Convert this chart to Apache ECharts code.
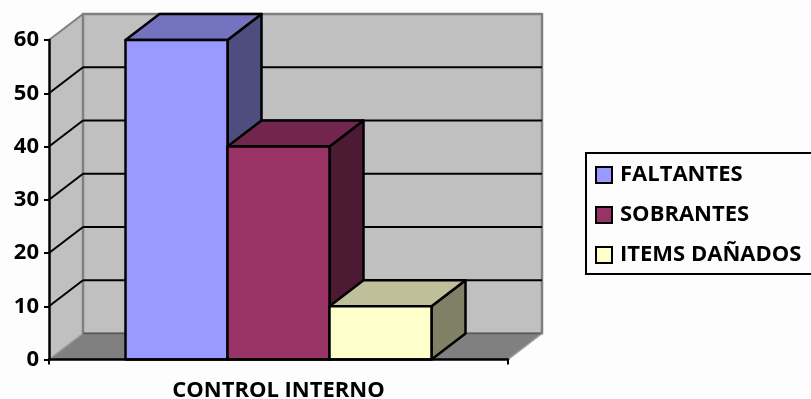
<!DOCTYPE html>
<html>
<head>
<meta charset="utf-8">
<style>html,body{margin:0;padding:0;background:#fdfdfd;overflow:hidden}#chart{width:811px;height:399px}</style>
<script src="https://cdn.jsdelivr.net/npm/echarts@6/dist/echarts.min.js"></script>
</head>
<body>
<div id="chart"></div>
<script>
// Inventory control results, drawn as a 3D-look clustered column
const categories = ['CONTROL INTERNO'];
const faltantes = [60];
const sobrantes = [40];
const itemsDanados = [10];
const yTicks = [0, 10, 20, 30, 40, 50, 60];

const FONT = '"Open Sans"';
const DEPTH_X = 34, DEPTH_Y = -26;
const BAND_UNITS = 4.5;   // one cluster band = 3 columns + 1.5 column widths of gap

const poly = (points, fill, stroke, lineWidth) => ({
  type: 'polygon',
  shape: { points },
  style: { fill, stroke, lineWidth, lineJoin: 'round' }
});
const line = (a, b, stroke, lineWidth) => ({
  type: 'line',
  shape: { x1: a[0], y1: a[1], x2: b[0], y2: b[1] },
  style: { stroke, lineWidth }
});
const back = p => [p[0] + DEPTH_X, p[1] + DEPTH_Y];

// Side wall, back wall, floor and the gridlines that run across the walls
function renderWalls(params, api) {
  const band = api.size([1, 0])[0];
  const cx = api.coord([0, 0])[0];
  const left = cx - band / 2, right = cx + band / 2;
  const y0 = api.coord([0, 0])[1];
  const yTop = api.coord([0, yTicks[yTicks.length - 1]])[1];
  const fl = [left, y0], fr = [right, y0], tl = [left, yTop];
  const children = [
    poly([fl, back(fl), back(tl), tl], '#c0c0c0', null, 0),
    poly([back(fl), back(fr), [right + DEPTH_X, yTop + DEPTH_Y], back(tl)], '#c0c0c0', '#808080', 2.5),
    poly([fl, fr, back(fr), back(fl)], '#808080', '#808080', 1),
    line(fl, back(fl), '#9a9a9a', 1.5),
    line(tl, back(tl), '#808080', 2),
    line(back(fl), back(fr), '#5a5a5a', 1.5),
    line(fr, back(fr), '#a0a0a0', 1.5)
  ];
  yTicks.slice(1, -1).forEach(t => {
    const p = api.coord([0, t]);
    const a = [left, p[1]];
    children.push(line(a, back(a), '#000', 2));
    children.push(line(back(a), [right + DEPTH_X, p[1] + DEPTH_Y], '#000', 2));
  });
  return { type: 'group', children };
}

// One column: front face, top face and right-hand face
function columnRenderer(slot, front, top, side) {
  return function (params, api) {
    const band = api.size([1, 0])[0];
    const w = band / BAND_UNITS;
    const c = api.coord([api.value(0), api.value(1)]);
    const y0 = api.coord([api.value(0), 0])[1];
    const x0 = c[0] - band / 2 + w * (0.75 + slot);
    const tl = [x0, c[1]], tr = [x0 + w, c[1]], br = [x0 + w, y0], bl = [x0, y0];
    return {
      type: 'group',
      children: [
        poly([tr, br, back(br), back(tr)], side, '#000', 2.5),
        poly([tl, tr, back(tr), back(tl)], top, '#000', 2.5),
        poly([tl, tr, br, bl], front, '#000', 2.5)
      ]
    };
  };
}

const column = (name, values, slot, front, top, side) => ({
  name,
  type: 'custom',
  z: 3,
  itemStyle: { color: front, borderColor: '#000', borderWidth: 3 },
  renderItem: columnRenderer(slot, front, top, side),
  encode: { x: 0, y: 1 },
  data: values.map((v, i) => [i, v])
});

const chart = echarts.init(document.getElementById('chart'), null, { renderer: 'canvas' });
chart.setOption({
  animation: false,
  backgroundColor: '#fdfdfd',
  grid: { left: 49, right: 303, top: 40, bottom: 39.5, outerBoundsMode: 'none' },
  legend: {
    orient: 'vertical',
    left: 586,
    top: 153,
    padding: [11, 14, 8, 9],
    itemWidth: 16,
    itemHeight: 16,
    itemGap: 18,
    icon: 'rect',
    borderColor: '#000',
    borderWidth: 2,
    data: ['FALTANTES', 'SOBRANTES', 'ITEMS DAÑADOS'],
    selectedMode: false,
    textStyle: { fontFamily: FONT, fontWeight: 'bold', fontSize: 22, color: '#000', padding: [0, 0, 0, 3] }
  },
  xAxis: {
    type: 'category',
    data: categories,
    z: 5,
    axisLine: { show: true, lineStyle: { color: '#000', width: 2.5 } },
    axisTick: { show: true, length: 5, lineStyle: { color: '#000', width: 2 } },
    axisLabel: { fontFamily: FONT, fontWeight: 'bold', fontSize: 22, color: '#000', margin: 20 }
  },
  yAxis: {
    type: 'value',
    min: 0,
    max: 60,
    interval: 10,
    z: 5,
    axisLine: { show: true, lineStyle: { color: '#000', width: 2.5 } },
    axisTick: { show: true, length: 5, lineStyle: { color: '#000', width: 2 } },
    splitLine: { show: false },
    axisLabel: { fontFamily: FONT, fontWeight: 'bold', fontSize: 22, color: '#000', margin: 10 }
  },
  series: [
    { name: 'walls', type: 'custom', z: 1, renderItem: renderWalls, encode: { x: 0, y: 1 }, data: [[0, 0]], silent: true },
    column('FALTANTES', faltantes, 0, '#9999ff', '#7373bf', '#4d4d80'),
    column('SOBRANTES', sobrantes, 1, '#993366', '#73264d', '#4d1a33'),
    column('ITEMS DAÑADOS', itemsDanados, 2, '#ffffcc', '#bfbf99', '#808066')
  ]
});
</script>
</body>
</html>
